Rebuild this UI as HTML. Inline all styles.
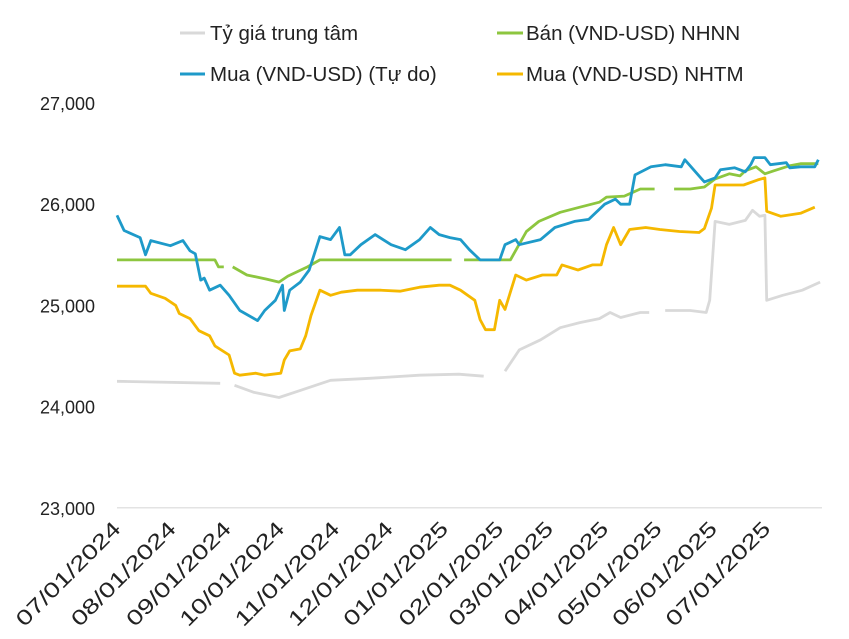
<!DOCTYPE html>
<html><head><meta charset="utf-8"><style>
body{margin:0;background:#fff;}
svg{display:block;font-family:"Liberation Sans","Noto Sans CJK SC",sans-serif;}
</style></head><body>
<svg id="c" width="849" height="639" xmlns="http://www.w3.org/2000/svg">
<g>
 <g><line x1="180" y1="33" x2="205" y2="33" stroke="#d9d9d9" stroke-width="3"/><text x="210" y="40" font-size="20.5" fill="#222">Tỷ giá trung tâm</text></g>
 <g><line x1="497" y1="33" x2="523" y2="33" stroke="#8dc63f" stroke-width="3"/><text x="526" y="40" font-size="20.5" fill="#222">Bán (VND-USD) NHNN</text></g>
 <g><line x1="180" y1="74" x2="205" y2="74" stroke="#1e9ac9" stroke-width="3"/><text x="210" y="81" font-size="20.5" fill="#222">Mua (VND-USD) (Tự do)</text></g>
 <g><line x1="497" y1="74" x2="523" y2="74" stroke="#f5b800" stroke-width="3"/><text x="526" y="81" font-size="20.5" fill="#222">Mua (VND-USD) NHTM</text></g>
</g>
<g id="axes"></g>
<g id="series"></g>
</svg>
<script>
const yTicks=[23000,24000,25000,26000,27000];
const monthLabels=["07/01/2024","08/01/2024","09/01/2024","10/01/2024","11/01/2024","12/01/2024","01/01/2025","02/01/2025","03/01/2025","04/01/2025","05/01/2025","06/01/2025","07/01/2025"];
const monthDays=[0,31,62,92,123,153,184,215,243,274,304,335,365];
const centralDays=[0,58,59,66,77,91,103,120,142,170,192,206,207,218,226,238,249,260,271,277,283,294,299,300,308,322,331,333,336,344,353,357,361,364,365,374,385,395];
const centralVals=[24250,24230,null,24210,24140,24090,24160,24260,24280,24310,24320,24300,null,24350,24560,24660,24780,24830,24870,24930,24880,24930,24930,null,24950,24950,24930,25050,25830,25800,25840,25940,25880,25890,25050,25100,25150,25230];
const sbvDays=[0,55,57,60,61,65,73,84,91,96,107,114,188,189,195,210,221,230,237,249,260,271,275,285,294,302,303,313,322,330,336,344,350,353,359,364,369,378,384,394];
const sbvVals=[25450,25450,25380,25380,null,25380,25300,25260,25230,25290,25380,25450,25450,null,25450,25450,25450,25730,25830,25920,25970,26020,26070,26080,26150,26150,null,26150,26150,26170,26250,26300,26280,26330,26370,26300,26330,26380,26400,26400];
const freeDays=[0,4,13,16,19,30,37,41,44,47,49,52,58,63,69,79,83,89,93,94,97,103,108,114,120,125,128,131,137,145,154,162,170,176,181,187,193,198,204,215,218,224,226,238,246,257,265,274,280,283,288,291,300,308,317,319,328,330,336,339,347,353,356,358,364,367,376,378,384,392,394];
const freeVals=[25890,25740,25670,25500,25640,25590,25640,25540,25510,25250,25270,25150,25200,25100,24950,24850,24950,25050,25200,24950,25150,25230,25350,25680,25650,25770,25500,25500,25600,25700,25600,25550,25650,25770,25700,25670,25650,25550,25450,25450,25600,25650,25600,25650,25770,25830,25850,26000,26050,26000,26000,26290,26370,26390,26370,26440,26260,26220,26260,26340,26360,26320,26390,26460,26460,26390,26410,26360,26370,26370,26440];
const bankDays=[0,16,19,27,33,35,41,46,52,55,63,66,69,78,83,92,94,97,103,106,109,114,120,126,135,148,159,170,181,187,193,201,204,207,212,215,218,224,230,239,247,250,259,267,272,275,279,283,288,297,305,316,327,330,334,336,344,352,360,364,365,373,384,392];
const bankVals=[25190,25190,25120,25070,25000,24920,24870,24750,24700,24600,24510,24330,24310,24330,24310,24330,24460,24550,24570,24700,24900,25150,25100,25130,25150,25150,25140,25180,25200,25200,25150,25050,24860,24760,24760,25050,24960,25300,25250,25300,25300,25400,25350,25400,25400,25600,25770,25600,25750,25770,25750,25730,25720,25760,25960,26190,26190,26190,26240,26260,25930,25880,25910,25970];

const NS="http://www.w3.org/2000/svg";
const x0=117,pxPerDay=1.78;
const xs=d=>x0+d*pxPerDay;
const ys=v=>103+(27000-v)/1000*101.2;
const axes=document.getElementById('axes'),ser=document.getElementById('series');
function mk(tag,attrs,parent){const e=document.createElementNS(NS,tag);for(const k in attrs)e.setAttribute(k,attrs[k]);parent.appendChild(e);return e;}
const base=mk('line',{x1:x0,x2:822,y1:ys(23000),y2:ys(23000),stroke:'#e3e3e3','stroke-width':1.5},axes);


yTicks.forEach(v=>{
 const t=mk('text',{x:95,y:ys(v)+7,'text-anchor':'end','font-size':18,fill:'#222'},axes);
 t.textContent=v.toLocaleString('en-US');
 
 
});
monthLabels.forEach((l,i)=>{
 const x=xs(monthDays[i])+5,y=530;
 const t=mk('text',{x:x,y:y,'text-anchor':'end','font-size':21,fill:'#222',textLength:138,lengthAdjust:'spacingAndGlyphs',transform:`rotate(-45 ${x} ${y})`},axes);
 t.textContent=l;
 
 
});
function line(days,vals,color,name){
 let d='',pen=false;
 days.forEach((dd,i)=>{const v=vals[i];if(v==null){pen=false;return;}d+=(pen?'L':'M')+xs(dd).toFixed(1)+' '+ys(v).toFixed(1)+' ';pen=true;});
 const p=mk('path',{d:d,fill:'none',stroke:color,'stroke-width':2.8,'stroke-linejoin':'round'},ser);
 
 
}
line(centralDays,centralVals,'#d9d9d9','central-rate-line');
line(sbvDays,sbvVals,'#8dc63f','sbv-sell-line');
line(bankDays,bankVals,'#f5b800','bank-buy-line');
line(freeDays,freeVals,'#1e9ac9','free-market-buy-line');
</script>
</body></html>
